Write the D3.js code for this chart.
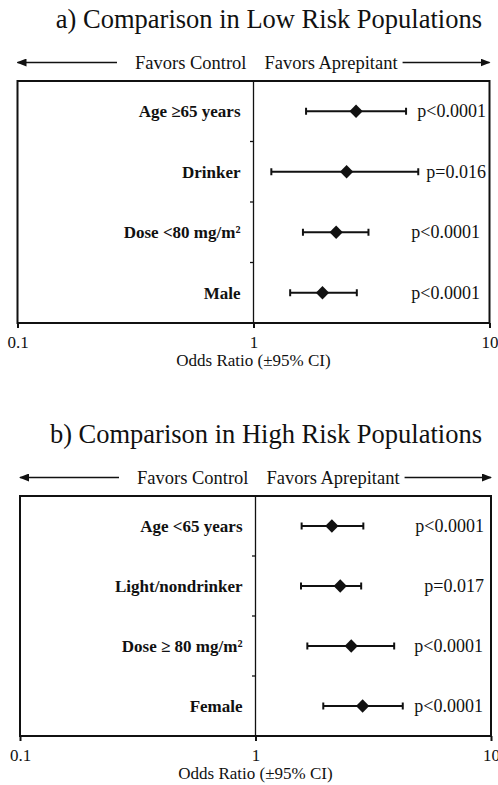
<html>
<head>
<style>
  body { margin: 0; background: #fff; }
  text { font-family: "Liberation Serif", "Times New Roman", serif; fill: #111; }
</style>
<script src="https://d3js.org/d3.v7.min.js"></script>
</head>
<body>
<svg width="498" height="785"></svg>
<script>
// ---- data ----
const titles = ["a) Comparison in Low Risk Populations", "b) Comparison in High Risk Populations"];

const lowLabels = ["Age \u226565 years", "Drinker", "Dose <80 mg/m\u00b2", "Male"];
const lowOR = [2.72, 2.48, 2.24, 1.96];
const lowLo = [1.67, 1.19, 1.62, 1.43];
const lowHi = [4.43, 4.99, 3.07, 2.74];
const lowP = ["p<0.0001", "p=0.016", "p<0.0001", "p<0.0001"];

const highLabels = ["Age <65 years", "Light/nondrinker", "Dose \u2265 80 mg/m\u00b2", "Female"];
const highOR = [2.11, 2.29, 2.55, 2.85];
const highLo = [1.57, 1.56, 1.66, 1.94];
const highHi = [2.87, 2.81, 3.88, 4.22];
const highP = ["p<0.0001", "p=0.017", "p<0.0001", "p<0.0001"];

const xTicks = [0.1, 1, 10];
const xTickLabels = ["0.1", "1", "10"];
const leftText = "Favors Control";
const rightText = "Favors Aprepitant";
const xTitle = "Odds Ratio (\u00b195% CI)";

let svg = d3.select("svg");
const ink = "#111";

let defs = svg.append("defs");
["L", "R"].forEach(function(k) {
    defs.append("marker")
        .attr("id", "arrow" + k)
        .attr("viewBox", "0 0 10 8")
        .attr("refX", 9).attr("refY", 4)
        .attr("markerWidth", 10).attr("markerHeight", 8)
        .attr("markerUnits", "userSpaceOnUse")
        .attr("orient", "auto")
        .append("path").attr("d", "M0,0L10,4L0,8Z").attr("fill", ink);
});

function drawPanel(o) {
    let x = d3.scaleLog().domain([0.1, 10]).range([o.left, o.right]);
    let y = d3.scaleBand().domain(o.labels).range([o.top, o.bottom]);
    let g = svg.append("g");
    let c = x(1);

    g.append("text")
        .attr("x", 482).attr("y", o.top - 53)
        .attr("text-anchor", "end")
        .attr("font-size", 26.5)
        .text(o.title);

    // favors arrows
    let fy = o.top - 18.5;
    let t1 = g.append("text")
        .attr("x", c - 7).attr("y", fy + 6.5)
        .attr("text-anchor", "end").attr("font-size", 18.5)
        .text(leftText);
    let t2 = g.append("text")
        .attr("x", c + 11).attr("y", fy + 6.5)
        .attr("font-size", 18.5)
        .text(rightText);
    let w1 = t1.node().getComputedTextLength();
    let w2 = t2.node().getComputedTextLength();
    g.append("line")
        .attr("x1", c - 7 - w1 - 18).attr("x2", o.left)
        .attr("y1", fy).attr("y2", fy)
        .attr("stroke", ink).attr("stroke-width", 1.6)
        .attr("marker-end", "url(#arrowL)");
    g.append("line")
        .attr("x1", c + 11 + w2 + 5).attr("x2", o.right)
        .attr("y1", fy).attr("y2", fy)
        .attr("stroke", ink).attr("stroke-width", 1.6)
        .attr("marker-end", "url(#arrowR)");

    // box
    g.append("rect")
        .attr("x", o.left).attr("y", o.top)
        .attr("width", o.right - o.left).attr("height", o.bottom - o.top)
        .attr("fill", "none").attr("stroke", ink).attr("stroke-width", 2);

    g.append("line")
        .attr("x1", c).attr("x2", c)
        .attr("y1", o.top).attr("y2", o.bottom)
        .attr("stroke", ink).attr("stroke-width", 1.3);

    // category separators
    g.selectAll(".sep")
        .data(o.labels.slice(1))
        .enter().append("line")
        .attr("x1", c - 3.5).attr("x2", c)
        .attr("y1", function(d) { return y(d); })
        .attr("y2", function(d) { return y(d); })
        .attr("stroke", ink).attr("stroke-width", 1.3);

    // x axis
    let ax = g.append("g")
        .attr("transform", "translate(0," + o.bottom + ")")
        .call(d3.axisBottom(x).tickValues(xTicks)
            .tickFormat(function(d, i) { return xTickLabels[i]; })
            .tickSize(5).tickPadding(7.5));
    ax.select(".domain").remove();
    ax.selectAll("line").attr("stroke", ink).attr("stroke-width", 2);
    ax.selectAll("text")
        .attr("font-family", "Liberation Serif, Times New Roman, serif")
        .attr("font-size", 17).attr("fill", ink);

    g.append("text")
        .attr("x", c).attr("y", o.bottom + 43)
        .attr("text-anchor", "middle").attr("font-size", 17)
        .text(xTitle);

    let rows = o.labels.map(function(d, i) {
        return {label: d, or: o.or[i], lo: o.lo[i], hi: o.hi[i], p: o.p[i], pShift: o.pShift[i]};
    });
    let cy = function(d) { return y(d.label) + y.bandwidth() / 2; };

    let bars = g.selectAll(".ci").data(rows).enter().append("g");
    bars.append("line")
        .attr("x1", function(d) { return x(d.lo); })
        .attr("x2", function(d) { return x(d.hi); })
        .attr("y1", cy).attr("y2", cy)
        .attr("stroke", ink).attr("stroke-width", 2);
    bars.append("line")
        .attr("x1", function(d) { return x(d.lo); })
        .attr("x2", function(d) { return x(d.lo); })
        .attr("y1", function(d) { return cy(d) - 3.5; })
        .attr("y2", function(d) { return cy(d) + 3.5; })
        .attr("stroke", ink).attr("stroke-width", 2);
    bars.append("line")
        .attr("x1", function(d) { return x(d.hi); })
        .attr("x2", function(d) { return x(d.hi); })
        .attr("y1", function(d) { return cy(d) - 3.5; })
        .attr("y2", function(d) { return cy(d) + 3.5; })
        .attr("stroke", ink).attr("stroke-width", 2);

    g.selectAll(".pt").data(rows).enter().append("path")
        .attr("d", d3.symbol(d3.symbolSquare, 88))
        .attr("transform", function(d) {
            return "translate(" + x(d.or) + "," + cy(d) + ") rotate(45)";
        })
        .attr("fill", ink);

    g.selectAll(".lab").data(rows).enter().append("text")
        .attr("x", c - 13)
        .attr("y", function(d) { return cy(d) + 6; })
        .attr("text-anchor", "end")
        .attr("font-size", 17).attr("font-weight", "bold")
        .text(function(d) { return d.label; });

    g.selectAll(".pv").data(rows).enter().append("text")
        .attr("x", function(d) { return o.pRight + d.pShift; })
        .attr("y", function(d) { return cy(d) + 6; })
        .attr("text-anchor", "end")
        .attr("font-size", 18)
        .text(function(d) { return d.p; });
}

drawPanel({title: titles[0], labels: lowLabels, or: lowOR, lo: lowLo, hi: lowHi, p: lowP,
    pShift: [0, 0, -6, -6], pRight: 486,
    left: 17.5, right: 489.5, top: 81, bottom: 323});
drawPanel({title: titles[1], labels: highLabels, or: highOR, lo: highLo, hi: highHi, p: highP,
    pShift: [0, 0, -1, -1], pRight: 484,
    left: 20, right: 491, top: 496, bottom: 736});
</script>
</body>
</html>
